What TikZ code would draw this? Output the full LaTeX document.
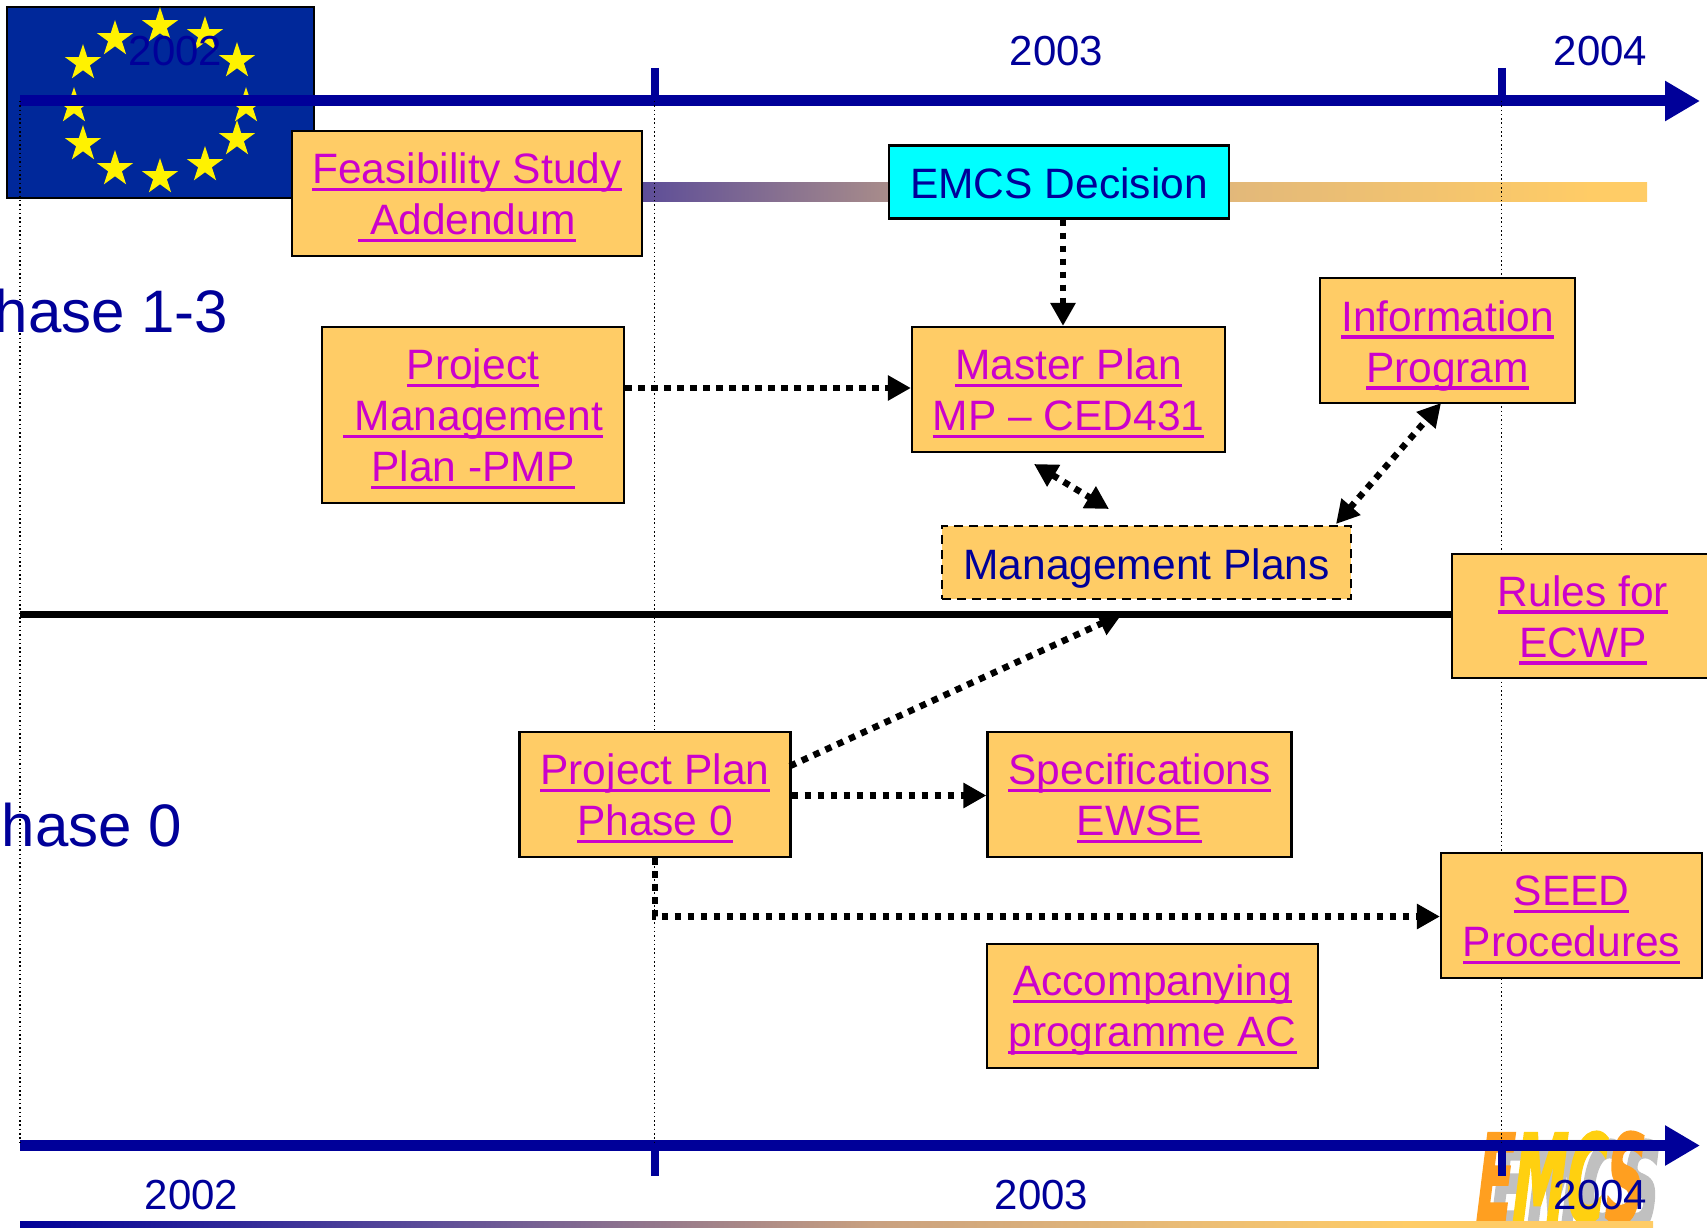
\documentclass[tikz,border=0pt]{standalone}
\usepackage{fontspec}
\usepackage{graphicx}
\setmainfont{Liberation Sans}
\newfontfamily\logofont[FakeBold=3,FakeSlant=.28]{DejaVu Sans Bold}
\usetikzlibrary{arrows.meta,shapes.geometric}
\definecolor{navyline}{HTML}{000099}
\definecolor{flagblue}{HTML}{00289A}
\definecolor{boxfill}{HTML}{FFCC66}
\definecolor{linkcol}{HTML}{CC00CC}
\definecolor{decisioncol}{HTML}{00FFFF}
\definecolor{logoorange}{HTML}{FF9F20}
\definecolor{logoyellow}{HTML}{FFD010}
\definecolor{logogray}{HTML}{C0C0C0}
\definecolor{barA}{HTML}{5E4E98}
\definecolor{barB}{HTML}{A88C8A}
\definecolor{barC}{HTML}{E2B87A}
\definecolor{barD}{HTML}{C8A080}
\definecolor{barE}{HTML}{EBBD75}
\pgfdeclarehorizontalshading{topbar}{100bp}{color(0bp)=(barA); color(25bp)=(barA); color(38bp)=(barA);
  color(47bp)=(barB); color(59.5bp)=(barC); color(73bp)=(boxfill); color(100bp)=(boxfill)}
\pgfdeclarehorizontalshading{lowbar}{100bp}{color(0bp)=(navyline); color(25bp)=(navyline); color(37.7bp)=(barA);
  color(51bp)=(barD); color(61bp)=(barE); color(67.5bp)=(boxfill); color(100bp)=(boxfill)}
\newcommand{\lnk}[1]{\setbox0=\hbox{#1}\rlap{\vrule width\wd0 height-4pt depth7.5pt}\box0}
\newcommand{\gap}[1]{\rule{0pt}{#1pt}}
\newcommand{\logotext}[1]{\scalebox{.445}[1]{\logofont\fontsize{120}{120}\selectfont #1}}
\begin{document}
\begin{tikzpicture}[%
  x=1pt,y=-1pt,
  plain/.style={inner sep=0pt,font=\fontsize{42.5}{51}\selectfont,align=center},
  yearlabel/.style={inner sep=0pt,font=\fontsize{42}{51}\selectfont,text=navyline},
  phaselabel/.style={inner sep=0pt,font=\fontsize{60}{62}\selectfont,text=navyline,anchor=base east},
  planbox/.style={plain,draw=black,line width=2.2pt,fill=boxfill,text=linkcol},
  staritem/.style={star,star points=5,star point ratio=2.618,fill=yellow,inner sep=0pt,minimum size=38pt},
  axisline/.style={draw=navyline,line width=11pt},
  axisarrow/.style={axisline,-{Triangle[length=35pt,width=38pt]}},
  tickline/.style={draw=navyline,line width=8pt},
  yearline/.style={line width=1.5pt,dash pattern=on 1.5pt off 2.8pt},
  flowline/.style={line width=6.5pt,dash pattern=on 6.5pt off 6.5pt,-{Triangle[length=23pt,width=24pt]}},
  flowboth/.style={flowline,{Triangle[length=23pt,width=24pt]}-{Triangle[length=23pt,width=24pt]}}]
\useasboundingbox (0,0) rectangle (1707,1228);
\coordinate (topstart) at (20,101);
\coordinate (toptip) at (1700,101);
\coordinate (bottomstart) at (20,1145.5);
\coordinate (bottomtip) at (1700,1145.5);
\coordinate (tickA) at (654.5,101);
\coordinate (tickB) at (1501.5,101);
\coordinate (tickAtop) at (654.5,68);
\coordinate (tickBtop) at (1501.5,68);
\coordinate (tickAlow) at (654.5,1145.5);
\coordinate (tickBlow) at (1501.5,1145.5);
\coordinate (tickAend) at (654.5,1176);
\coordinate (tickBend) at (1501.5,1176);
\coordinate (divstart) at (20,614);
\coordinate (divend) at (1460,614);

\node[anchor=north west,inner sep=0pt,draw=black,line width=2.2pt,fill=flagblue,
  minimum width=307pt,minimum height=191pt] (flag) at (5.5,6) {};
\foreach \x/\y [count=\n] in {160/26,205/35,237/61,246/106,237/139,205/165,160/177,115/169,83/144,74/106,83/63,115/39}
  \node[staritem] (star\n) at (\x,\y) {};
\shade[shading=topbar] (292,182) rectangle (1647,201);

\node[anchor=north west,inner sep=0pt,text=logogray] (logoshade) at (1486,1140) {\logotext{EMCS}};
\node[anchor=north west,inner sep=0pt] (logo) at (1472,1132)
  {\logotext{\textcolor{logoorange}{E}\textcolor{logoyellow}{MC}\textcolor{logoorange}{S}}};
\shade[shading=lowbar] (20,1221) rectangle (1653,1228);

\draw[axisarrow] (topstart) -- (toptip);
\draw[axisarrow] (bottomstart) -- (bottomtip);
\draw[tickline] (tickAtop) -- (tickA);
\draw[tickline] (tickBtop) -- (tickB);
\draw[tickline] (tickAlow) -- (tickAend);
\draw[tickline] (tickBlow) -- (tickBend);
\draw[line width=7pt] (divstart) -- (divend);
\draw[yearline] (topstart) -- (bottomstart);
\draw[yearline] (tickA) -- (tickAlow);
\draw[yearline] (tickB) -- (tickBlow);

\node[yearlabel] (yearA) at (175.5,51.5) {2002};
\node[yearlabel] (yearB) at (1056.5,51.5) {2003};
\node[yearlabel] (yearC) at (1600.5,51.5) {2004};
\node[yearlabel] (yearD) at (191.5,1195.5) {2002};
\node[yearlabel] (yearE) at (1041.5,1195.5) {2003};
\node[yearlabel] (yearF) at (1600.5,1195.5) {2004};

\node[phaselabel] (phaseA) at (228.5,332) {Phase 1-3};
\node[phaselabel] (phaseB) at (182,846) {Phase 0};

\node[planbox,minimum width=350pt,minimum height=125pt] (feasibility) at (467,193.5)
  {\gap{39}\lnk{Feasibility Study}\\\lnk{\ Addendum}};
\node[planbox,fill=decisioncol,text=navyline,minimum width=340pt,minimum height=73pt] (decision) at (1059,182)
  {\gap{33}EMCS Decision};
\node[planbox,minimum width=302pt,minimum height=176pt] (pmp) at (473,415)
  {\gap{39}\lnk{Project}\\\lnk{\ Management}\\\lnk{Plan -PMP}};
\node[planbox,minimum width=313pt,minimum height=125pt] (master) at (1068.5,389.5)
  {\gap{39}\lnk{Master Plan}\\\lnk{MP – CED431}};
\node[planbox,minimum width=255pt,minimum height=125pt] (info) at (1447.5,340.5)
  {\gap{41}\lnk{Information}\\\lnk{Program}};
\node[planbox,dash pattern=on 9pt off 6pt,text=navyline,minimum width=409pt,minimum height=73pt] (mgmt) at (1146.5,562.5)
  {\gap{42}Management Plans};
\node[planbox,minimum width=262pt,minimum height=124pt] (rules) at (1583,616)
  {\gap{39}\lnk{Rules for}\\\lnk{ECWP}};
\node[planbox,minimum width=271pt,minimum height=125pt] (plan) at (655,794.5)
  {\gap{39}\lnk{Project Plan}\\\lnk{Phase 0}};
\node[planbox,minimum width=304pt,minimum height=125pt] (specs) at (1139.5,794.5)
  {\gap{39}\lnk{Specifications}\\\lnk{EWSE}};
\node[planbox,minimum width=261pt,minimum height=125pt] (seed) at (1571.5,915.5)
  {\gap{39}\lnk{SEED}\\\lnk{Procedures}};
\node[planbox,minimum width=331pt,minimum height=124pt] (accomp) at (1152.5,1006)
  {\gap{39}\lnk{Accompanying}\\\lnk{programme AC}};

\coordinate (masterlow) at (1034,464);
\coordinate (mgmtup) at (1109,509);
\coordinate (mgmtcorner) at (1336,524);
\coordinate (infolow) at (1441,403);
\coordinate (plantop) at (790,766);
\coordinate (divpoint) at (1122,614);

\draw[flowline] ([xshift=4pt]decision.south) -- ([xshift=4pt]decision.south |- master.north);
\draw[flowline] ([yshift=1.5pt]pmp.east |- master.west) -- ([yshift=1.5pt]master.west);
\draw[flowboth] (masterlow) -- (mgmtup);
\draw[flowboth] (mgmtcorner) -- (infolow);
\draw[flowline] (plantop) -- (divpoint);
\draw[flowline] ([yshift=-1pt]plan.east) -- ([yshift=-1pt]specs.west);
\draw[flowline] (plan.south) -- ([yshift=-1pt]plan.south |- seed.west) -- ([yshift=-1pt]seed.west);
\end{tikzpicture}
\end{document}
